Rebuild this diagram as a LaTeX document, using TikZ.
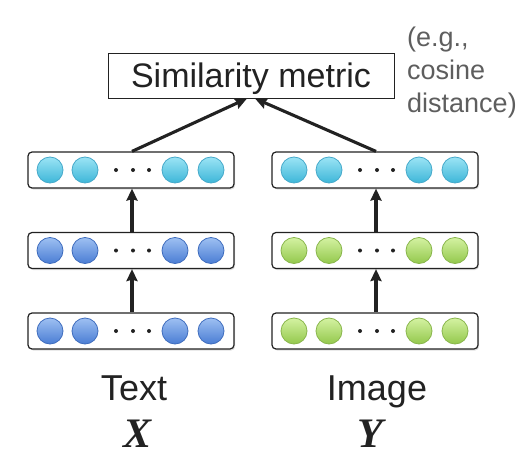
\documentclass[tikz,border=0pt]{standalone}
\usepackage{fontspec}
\setmainfont{Liberation Sans}
\newfontfamily\timesbi{Liberation Serif}
\usetikzlibrary{arrows.meta,shadows,calc}
\definecolor{cyantop}{HTML}{9BE4F5}
\definecolor{cyanbot}{HTML}{3DB6D8}
\definecolor{cyanrim}{HTML}{45A9CA}
\definecolor{bluetop}{HTML}{9EC0F2}
\definecolor{bluebot}{HTML}{4A7DD4}
\definecolor{bluerim}{HTML}{3F6DBE}
\definecolor{greentop}{HTML}{D4F2A2}
\definecolor{greenbot}{HTML}{93C84C}
\definecolor{greenrim}{HTML}{89B64C}
\definecolor{inkc}{HTML}{222222}
\definecolor{notegray}{HTML}{5E5E5E}
\tikzset{
  layerbox/.style={draw=inkc, line width=1.2pt, rounded corners=4pt, fill=white,
    minimum width=206pt, minimum height=36pt, inner sep=0pt,
    drop shadow={opacity=0.25, shadow xshift=1.2pt, shadow yshift=-1.5pt}},
  unit/.style={circle, minimum size=26pt, inner sep=0pt, line width=0.8pt},
  cyanunit/.style={unit, draw=cyanrim, top color=cyantop, bottom color=cyanbot},
  blueunit/.style={unit, draw=bluerim, top color=bluetop, bottom color=bluebot},
  greenunit/.style={unit, draw=greenrim, top color=greentop, bottom color=greenbot},
  arr/.style={line width=3.1pt, draw=inkc, -{Stealth[length=12pt,width=11pt,inset=1.5pt]}},
  bigtext/.style={text=inkc, font=\fontsize{36}{40}\selectfont, anchor=base, inner sep=0pt},
  vartext/.style={text=inkc, font=\timesbi\bfseries\itshape\fontsize{42}{46}\selectfont, anchor=base, inner sep=0pt}
}
\newcommand\mkrow[4]{%
  \node[layerbox] (#1) at (#2,#3) {};
  \foreach \dx/\k in {-81/a,-46/b,44/c,80/d}
    \node[#4] (#1\k) at ($(#1.center)+(\dx,0)$) {};
  \foreach \dx in {-15,2,18}
    \fill[inkc] ($(#1.center)+(\dx,0)$) circle (2);
}
\begin{document}
\begin{tikzpicture}[x=1pt,y=-1pt]
\useasboundingbox (0,0) rectangle (528,463);
% rows
\mkrow{lt}{131}{170}{cyanunit}
\mkrow{lm}{131}{250.5}{blueunit}
\mkrow{lb}{131}{331}{blueunit}
\mkrow{rt}{375}{170}{cyanunit}
\mkrow{rm}{375}{250.5}{greenunit}
\mkrow{rb}{375}{331}{greenunit}
% similarity box
\node[draw=inkc, line width=1pt, fill=white, minimum width=286pt, minimum height=45pt,
  inner sep=0pt, text=inkc, text height=25pt, text depth=2pt,
  font=\fontsize{34}{40}\selectfont] (sim) at (251,75.5) {Similarity metric};
\node[anchor=north west, align=left, inner sep=0pt, text=notegray,
  font=\fontsize{27}{33}\selectfont] (note) at (407,27) {(e.g.,\\cosine\\distance)};
% arrows
\draw[arr] ($(lb.north)+(1,0)$) -- ($(lm.south)+(1,0)$);
\draw[arr] ($(lm.north)+(1,0)$) -- ($(lt.south)+(1,0)$);
\draw[arr] ($(rb.north)+(1,0)$) -- ($(rm.south)+(1,0)$);
\draw[arr] ($(rm.north)+(1,0)$) -- ($(rt.south)+(1,0)$);
\draw[arr] ($(lt.north)+(1,0)$) -- ($(sim.south)+(-4,0)$);
\draw[arr] ($(rt.north)+(1,0)$) -- ($(sim.south)+(4,0)$);
% labels
\node[bigtext] (txt) at (134,400) {Text};
\node[bigtext] (img) at (377,400) {Image};
\node[vartext] (xv) at (138,447) {X};
\node[vartext] (yv) at (370,447) {Y};
\end{tikzpicture}
\end{document}
